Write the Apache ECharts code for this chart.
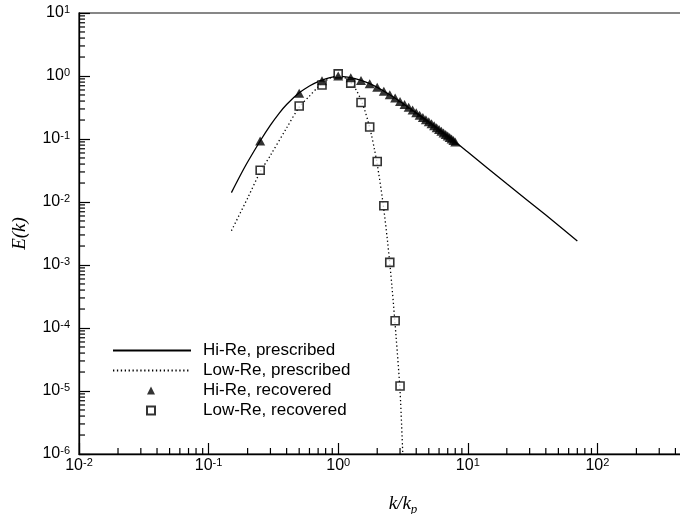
<!DOCTYPE html>
<html>
<head>
<meta charset="utf-8">
<script src="https://cdn.jsdelivr.net/npm/echarts@6/dist/echarts.min.js"></script>
<style>html,body{margin:0;padding:0;background:#fff;}#c{width:680px;height:514px;}</style>
</head>
<body>
<div id="c"></div>
<script>
// ---- data ----
const hiReK = [0.15,0.175,0.2,0.25,0.3,0.35,0.4,0.5,0.6,0.7,0.8,0.9,1.0,1.1,1.25,1.5,1.75,2,2.5,3,4,5,6,7,8,10,20,40,70];
const hiReE = [0.0141,0.0261,0.0431,0.093,0.166,0.256,0.353,0.54,0.695,0.815,0.90,0.96,0.99,0.98,0.94,0.85,0.755,0.66,0.505,0.395,0.26,0.187,0.142,0.111,0.090,0.062,0.0195,0.0062,0.0024];

const lowReK = [0.15,0.2,0.25,0.3,0.4,0.5,0.6,0.7,0.8,0.9,1.0,1.1,1.2,1.3,1.4,1.5,1.6,1.7,1.8,1.9,2.0,2.2,2.4,2.6,2.8,3.0,3.15];
const lowReE = [0.0035,0.0115,0.030,0.055,0.15,0.32,0.48,0.67,0.84,0.96,1.0,0.962,0.86,0.718,0.563,0.416,0.289,0.19,0.119,0.070,0.040,0.0108,0.00243,4.5e-4,7.0e-5,1.0e-5,1.0e-6];

const hiRecK = [0.25,0.5,0.75,1.0,1.25,1.5,1.75,2.0,2.25,2.5,2.75,3.0,3.25,3.5,3.75,4.0,4.25,4.5,4.75,5.0,5.25,5.5,5.75,6.0,6.25,6.5,6.75,7.0,7.25,7.5,7.75,8.0];
const hiRecE = [0.093,0.53,0.84,1.0,0.94,0.85,0.755,0.66,0.575,0.505,0.447,0.395,0.353,0.318,0.288,0.261,0.239,0.220,0.202,0.187,0.174,0.162,0.151,0.1416,0.1327,0.1249,0.1178,0.1112,0.1053,0.0997,0.0947,0.090];

const lowRecK = [0.25,0.5,0.75,1.0,1.25,1.5,1.75,2.0,2.25,2.5,2.75,3.0];
const lowRecE = [0.032,0.334,0.72,1.08,0.77,0.38,0.155,0.044,0.0087,0.0011,1.3e-4,1.2e-5];

const seriesNames = ['Hi-Re, prescribed','Low-Re, prescribed','Hi-Re, recovered','Low-Re, recovered'];
const xAxisTitle = 'k/k';
const xAxisSub = 'p';
const yAxisTitle = 'E(k)';

// axis decoration: minor tick values (2..9 x 10^n)
const xMinor = [], yMinor = [];
for (let n = -2; n <= 2; n++) for (let m = 2; m <= 9; m++) xMinor.push(m * Math.pow(10, n));
for (let n = -6; n <= 0; n++) for (let m = 2; m <= 9; m++) yMinor.push(m * Math.pow(10, n));

const zip = (a, b) => a.map((v, i) => [v, b[i]]);
const FONT = '"Liberation Sans", Arial, Helvetica, sans-serif';
const SERIF = '"Liberation Serif", "Times New Roman", serif';

function powLabel(v) {
  const e = Math.round(Math.log10(v));
  return '{b|10}{s|' + e + '}';
}
const labelRich = {
  b: { fontSize: 16, fontFamily: FONT, color: '#000', lineHeight: 18, verticalAlign: 'middle' },
  s: { fontSize: 11, fontFamily: FONT, color: '#000', lineHeight: 10, verticalAlign: 'top' }
};
const legendText = { fontSize: 17, fontFamily: FONT, color: '#000' };

const chart = echarts.init(document.getElementById('c'), null, { renderer: 'canvas' });
chart.setOption({
  animation: false,
  backgroundColor: '#fff',
  grid: { left: 79, top: 13, right: -47, bottom: 60, show: true, borderColor: '#111', borderWidth: 1.2,
          containLabel: false, outerBoundsMode: 'none' },
  xAxis: {
    type: 'log', logBase: 10, min: 0.01, max: 1000,
    splitLine: { show: false },
    axisLine: { lineStyle: { color: '#000', width: 1.3 } },
    axisTick: { inside: true, length: 11, lineStyle: { color: '#000', width: 1.2 } },
    axisLabel: { margin: 3, formatter: powLabel, rich: labelRich },
    name: '{i|' + xAxisTitle + '}{u|' + xAxisSub + '}',
    nameLocation: 'middle', nameGap: 40,
    nameTextStyle: {
      rich: {
        i: { fontSize: 19, fontStyle: 'italic', fontFamily: SERIF, color: '#000', lineHeight: 19, verticalAlign: 'top' },
        u: { fontSize: 13, fontStyle: 'italic', fontFamily: SERIF, color: '#000', lineHeight: 13, padding: [9, 0, 0, 0], verticalAlign: 'top' }
      }
    }
  },
  yAxis: {
    type: 'log', logBase: 10, min: 1e-6, max: 10,
    splitLine: { show: false },
    axisLine: { lineStyle: { color: '#000', width: 1.3 } },
    axisTick: { inside: true, length: 11, lineStyle: { color: '#000', width: 1.2 } },
    axisLabel: { margin: 9, formatter: powLabel, rich: labelRich },
    name: yAxisTitle, nameLocation: 'middle', nameGap: 50, nameRotate: 90,
    nameTextStyle: { fontSize: 19, fontStyle: 'italic', fontFamily: SERIF, color: '#000' }
  },
  legend: [
    {
      orient: 'vertical', left: 112, top: 342, padding: 0,
      itemWidth: 78, itemHeight: 8, itemGap: 3,
      selectedMode: false,
      data: [seriesNames[0], seriesNames[1]],
      textStyle: Object.assign({ padding: [0, 0, 0, 7] }, legendText)
    },
    {
      orient: 'vertical', left: 146, top: 382, padding: 0,
      itemWidth: 8, itemHeight: 8, itemGap: 3,
      selectedMode: false,
      data: [seriesNames[2], seriesNames[3]],
      textStyle: Object.assign({ padding: [0, 0, 0, 43] }, legendText)
    }
  ],
  series: [
    {
      name: seriesNames[0], type: 'line', data: zip(hiReK, hiReE),
      symbol: 'none', smooth: 0.3, clip: true,
      lineStyle: { color: '#000', width: 1.3, type: 'solid' }, itemStyle: { color: 'rgba(0,0,0,0)' }, z: 3
    },
    {
      name: seriesNames[1], type: 'line', data: zip(lowReK, lowReE),
      symbol: 'none', smooth: 0.3, clip: true,
      lineStyle: { color: '#000', width: 1.3, type: [1.3, 2.6] }, itemStyle: { color: 'rgba(0,0,0,0)' }, z: 3
    },
    {
      name: seriesNames[3], type: 'scatter', data: zip(lowRecK, lowRecE),
      symbol: 'rect', symbolSize: 8,
      itemStyle: { color: '#fff', borderColor: '#000', borderWidth: 1.6 }, z: 4
    },
    {
      name: seriesNames[2], type: 'scatter', data: zip(hiRecK, hiRecE),
      symbol: 'triangle', symbolSize: [10, 9],
      itemStyle: { color: '#000' }, z: 5
    },
    {
      name: 'xminor', type: 'custom', silent: true, z: 6,
      data: xMinor.map(v => [v, 1e-6]),
      renderItem: function (params, api) {
        const p = api.coord([api.value(0), api.value(1)]);
        return { type: 'line', shape: { x1: p[0], y1: p[1], x2: p[0], y2: p[1] - 6 }, style: { stroke: '#000', lineWidth: 1.2 } };
      }
    },
    {
      name: 'yminor', type: 'custom', silent: true, z: 6,
      data: yMinor.map(v => [0.01, v]),
      renderItem: function (params, api) {
        const p = api.coord([api.value(0), api.value(1)]);
        return { type: 'line', shape: { x1: p[0], y1: p[1], x2: p[0] + 6, y2: p[1] }, style: { stroke: '#000', lineWidth: 1.2 } };
      }
    }
  ]
});
</script>
</body>
</html>
